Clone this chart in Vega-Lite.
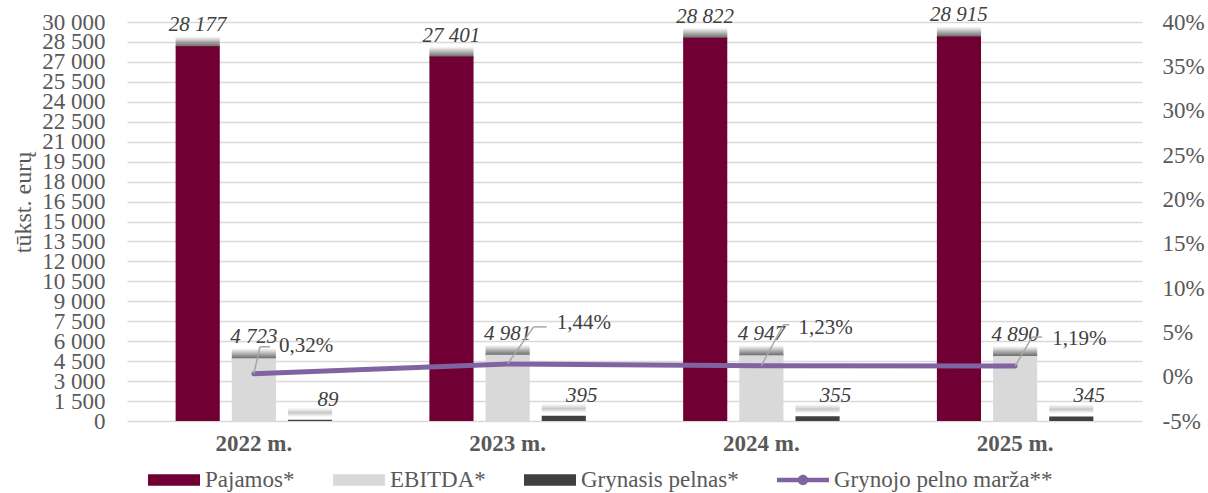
{
  "$schema": "https://vega.github.io/schema/vega-lite/v6.json",
  "autosize": {"type": "none"},
  "padding": {"left": 127, "top": 22, "right": 66, "bottom": 72},
  "width": 1015,
  "height": 399,
  "datasets": {
    "bars": [
      {"year": "2022 m.", "series": "Pajamos*", "value": 28177},
      {"year": "2022 m.", "series": "EBITDA*", "value": 4723},
      {"year": "2022 m.", "series": "Grynasis pelnas*", "value": 89},
      {"year": "2023 m.", "series": "Pajamos*", "value": 27401},
      {"year": "2023 m.", "series": "EBITDA*", "value": 4981},
      {"year": "2023 m.", "series": "Grynasis pelnas*", "value": 395},
      {"year": "2024 m.", "series": "Pajamos*", "value": 28822},
      {"year": "2024 m.", "series": "EBITDA*", "value": 4947},
      {"year": "2024 m.", "series": "Grynasis pelnas*", "value": 355},
      {"year": "2025 m.", "series": "Pajamos*", "value": 28915},
      {"year": "2025 m.", "series": "EBITDA*", "value": 4890},
      {"year": "2025 m.", "series": "Grynasis pelnas*", "value": 345}
    ],
    "margin": [
      {"year": "2022 m.", "series": "Grynojo pelno marža**", "margin": 0.0032},
      {"year": "2023 m.", "series": "Grynojo pelno marža**", "margin": 0.0144},
      {"year": "2024 m.", "series": "Grynojo pelno marža**", "margin": 0.0123},
      {"year": "2025 m.", "series": "Grynojo pelno marža**", "margin": 0.0119}
    ]
  },
  "resolve": {"scale": {"y": "independent"}, "axis": {"y": "independent"}},
  "layer": [
    {
      "data": {"name": "bars"},
      "resolve": {"scale": {"y": "shared"}, "axis": {"y": "shared"}},
      "encoding": {
        "x": {"field": "year", "type": "nominal", "sort": null,
              "scale": {"paddingInner": 0.336, "paddingOuter": 0.168},
              "axis": {"title": null, "labelAngle": 0, "labelFontWeight": "bold", "labelFontSize": 23, "labelColor": "#595959", "labelPadding": 11, "ticks": false, "domain": false, "grid": false}},
        "xOffset": {"field": "series", "type": "nominal",
              "scale": {"domain": ["Pajamos*", "EBITDA*", "Grynasis pelnas*"], "paddingInner": 0.214, "paddingOuter": 0.107}},
        "y": {"field": "value", "type": "quantitative",
              "scale": {"domain": [0, 30000], "nice": false, "zero": true},
              "axis": {"orient": "left", "title": "tūkst. eurų", "titleFontSize": 24, "titleFontWeight": "normal", "titleColor": "#595959",
                       "titleX": -104, "titleY": 180, "titleAngle": -90, "titleAlign": "center", "titleBaseline": "middle",
                       "values": [0, 1500, 3000, 4500, 6000, 7500, 9000, 10500, 12000, 13500, 15000, 16500, 18000, 19500, 21000, 22500, 24000, 25500, 27000, 28500, 30000],
                       "format": ",d", "labelFontSize": 23, "labelColor": "#595959", "labelPadding": 22, "labelOverlap": false,
                       "ticks": false, "domain": false,
                       "grid": true, "gridColor": "#D9D9D9", "gridWidth": 1.3}}
      },
      "layer": [
        {
          "transform": [{"filter": "datum.series !== 'Grynasis pelnas*'"}],
          "mark": {"type": "bar", "yOffset": -10, "y2Offset": 1,
                   "fill": {"gradient": "linear", "x1": 0, "y1": 0, "x2": 0, "y2": 1,
                            "stops": [{"offset": 0, "color": "rgba(128,128,128,0)"}, {"offset": 0.5, "color": "rgba(110,110,110,0.55)"}, {"offset": 1, "color": "rgba(80,80,80,0.95)"}]}},
          "encoding": {"y2": {"field": "value"}}
        },
        {
          "transform": [{"filter": "datum.series === 'Grynasis pelnas*'"}],
          "mark": {"type": "bar", "yOffset": -12, "y2Offset": -3,
                   "fill": {"gradient": "linear", "x1": 0, "y1": 0, "x2": 0, "y2": 1,
                            "stops": [{"offset": 0, "color": "rgba(190,190,190,0)"}, {"offset": 0.55, "color": "rgba(190,190,190,0.85)"}, {"offset": 1, "color": "rgba(190,190,190,0)"}]}},
          "encoding": {"y2": {"field": "value"}}
        },
        {
          "mark": {"type": "bar"},
          "encoding": {
            "color": {"field": "series", "type": "nominal", "title": null,
                  "scale": {"domain": ["Pajamos*", "EBITDA*", "Grynasis pelnas*", "Grynojo pelno marža**"], "range": ["#700033", "#D9D9D9", "#404040", "#8064A2"]}}
          }
        },
        {
          "transform": [{"filter": "datum.series !== 'Grynasis pelnas*'"}],
          "mark": {"type": "text", "fontStyle": "italic", "fontSize": 21, "color": "#404040", "baseline": "alphabetic", "dy": -15},
          "encoding": {
            "text": {"field": "value", "type": "quantitative", "format": ",d"}
          }
        },
        {
          "transform": [{"filter": "datum.series === 'Grynasis pelnas*'"}],
          "mark": {"type": "text", "fontStyle": "italic", "fontSize": 21, "color": "#404040", "baseline": "alphabetic", "dy": -14, "dx": 18},
          "encoding": {
            "text": {"field": "value", "type": "quantitative", "format": ",d"}
          }
        }
      ]
    },
    {
      "data": {"name": "margin"},
      "resolve": {"scale": {"y": "shared"}, "axis": {"y": "shared"}},
      "encoding": {
        "x": {"field": "year", "type": "nominal", "sort": null},
        "y": {"field": "margin", "type": "quantitative",
              "scale": {"domain": [-0.05, 0.4], "nice": false, "zero": false},
              "axis": {"orient": "right", "title": null, "values": [-0.05, 0, 0.05, 0.1, 0.15, 0.2, 0.25, 0.3, 0.35, 0.4],
                       "format": ".0%", "labelFontSize": 23, "labelColor": "#595959", "labelPadding": 20, "labelAlign": "left",
                       "labelOverlap": false, "ticks": false, "domain": false, "grid": false}}
      },
      "layer": [
        {
          "mark": {"type": "line", "color": "#8064A2", "strokeWidth": 5, "strokeCap": "round"}
        },
        {
          "mark": {"type": "point", "filled": true, "size": 2704, "opacity": 0},
          "encoding": {
            "shape": {"field": "series", "type": "nominal", "title": null,
                  "scale": {"domain": ["Pajamos*", "EBITDA*", "Grynasis pelnas*", "Grynojo pelno marža**"],
                            "range": ["M-1,-0.22H1V0.22H-1Z", "M-1,-0.22H1V0.22H-1Z", "M-1,-0.22H1V0.22H-1Z", "M-1,-0.09H1V0.09H-1Z M0.2,0A0.2,0.2 0 1,1 -0.2,0A0.2,0.2 0 1,1 0.2,0Z"]}}
          }
        },
        {
          "transform": [{"filter": "datum.year === '2022 m.'"}],
          "layer": [
            {"mark": {"type": "rule", "color": "#A6A6A6", "strokeWidth": 1.5, "x2Offset": 6, "y2Offset": -27},
             "encoding": {"x2": {"field": "year"}, "y2": {"field": "margin"}}},
            {"mark": {"type": "rule", "color": "#A6A6A6", "strokeWidth": 1.5, "xOffset": 6, "x2Offset": 16, "yOffset": -27, "y2Offset": -27},
             "encoding": {"x2": {"field": "year"}, "y2": {"field": "margin"}}},
            {"mark": {"type": "text", "fontSize": 21, "color": "#404040", "align": "left", "baseline": "middle", "dx": 25, "dy": -28},
             "encoding": {"text": {"field": "margin", "type": "quantitative", "format": ".2%"}}}
          ]
        },
        {
          "transform": [{"filter": "datum.year === '2023 m.'"}],
          "layer": [
            {"mark": {"type": "rule", "color": "#A6A6A6", "strokeWidth": 1.5, "x2Offset": 26, "y2Offset": -37},
             "encoding": {"x2": {"field": "year"}, "y2": {"field": "margin"}}},
            {"mark": {"type": "rule", "color": "#A6A6A6", "strokeWidth": 1.5, "xOffset": 26, "x2Offset": 39, "yOffset": -37, "y2Offset": -37},
             "encoding": {"x2": {"field": "year"}, "y2": {"field": "margin"}}},
            {"mark": {"type": "text", "fontSize": 21, "color": "#404040", "align": "left", "baseline": "middle", "dx": 49, "dy": -41},
             "encoding": {"text": {"field": "margin", "type": "quantitative", "format": ".2%"}}}
          ]
        },
        {
          "transform": [{"filter": "datum.year === '2024 m.'"}],
          "layer": [
            {"mark": {"type": "rule", "color": "#A6A6A6", "strokeWidth": 1.5, "x2Offset": 22, "y2Offset": -41},
             "encoding": {"x2": {"field": "year"}, "y2": {"field": "margin"}}},
            {"mark": {"type": "rule", "color": "#A6A6A6", "strokeWidth": 1.5, "xOffset": 22, "x2Offset": 28, "yOffset": -41, "y2Offset": -41},
             "encoding": {"x2": {"field": "year"}, "y2": {"field": "margin"}}},
            {"mark": {"type": "text", "fontSize": 21, "color": "#404040", "align": "left", "baseline": "middle", "dx": 37, "dy": -38},
             "encoding": {"text": {"field": "margin", "type": "quantitative", "format": ".2%"}}}
          ]
        },
        {
          "transform": [{"filter": "datum.year === '2025 m.'"}],
          "layer": [
            {"mark": {"type": "rule", "color": "#A6A6A6", "strokeWidth": 1.5, "x2Offset": 17, "y2Offset": -29},
             "encoding": {"x2": {"field": "year"}, "y2": {"field": "margin"}}},
            {"mark": {"type": "rule", "color": "#A6A6A6", "strokeWidth": 1.5, "xOffset": 17, "x2Offset": 27, "yOffset": -29, "y2Offset": -29},
             "encoding": {"x2": {"field": "year"}, "y2": {"field": "margin"}}},
            {"mark": {"type": "text", "fontSize": 21, "color": "#404040", "align": "left", "baseline": "middle", "dx": 37, "dy": -27},
             "encoding": {"text": {"field": "margin", "type": "quantitative", "format": ".2%"}}}
          ]
        }
      ]
    }
  ],
  "config": {
    "font": "Liberation Serif",
    "text": {"font": "Liberation Serif"},
    "axis": {"labelFont": "Liberation Serif", "titleFont": "Liberation Serif"},
    "view": {"stroke": null},
    "locale": {"number": {"decimal": ",", "thousands": " ", "grouping": [3], "currency": ["", ""], "minus": "-", "percent": "%"}},
    "legend": {
      "orient": "none", "direction": "horizontal", "legendX": 21, "legendY": 432, "padding": 0,
      "labelFont": "Liberation Serif",
      "symbolSize": 2704, "symbolStrokeWidth": 0, "labelFontSize": 23, "labelColor": "#595959", "labelOffset": 5,
      "columnPadding": 38, "labelLimit": 400, "symbolOpacity": 1
    }
  }
}
